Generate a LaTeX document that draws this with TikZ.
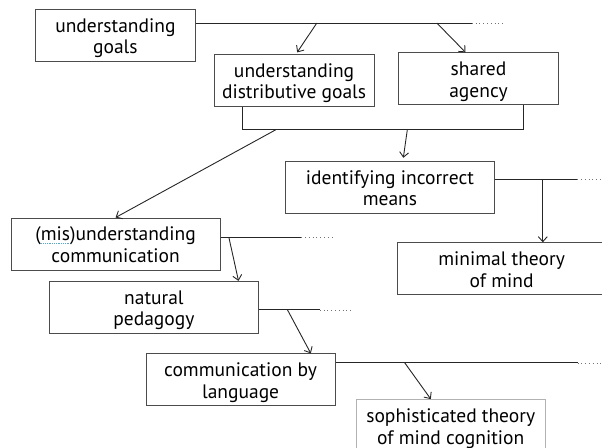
\documentclass[tikz,border=0pt]{standalone}
\usepackage{fontspec}
\setmainfont{PT Sans}
\usetikzlibrary{positioning,arrows.meta}

\newcommand\spellmark[1]{\setbox0\hbox{#1}\rlap{\color{cyan!60!gray}\hbox to \wd0{\leaders\hbox to 1.8pt{\hss\vrule width 0.8pt height -1.8pt depth 2.6pt\hss}\hfill}}#1}

\begin{document}
\begin{tikzpicture}[
    box/.style={draw=black!70, line width=0.8pt, minimum width=160pt, minimum height=52pt,
        inner sep=0pt, align=center, font=\fontsize{19.5}{21.5}\selectfont,
        text height=42pt, text depth=5pt},
    wide/.style={box, minimum width=209pt},
    mid/.style={box, minimum width=189pt},
    link/.style={line width=0.9pt, black!85},
    arr/.style={link, -{Straight Barb[length=5pt,width=9pt]}},
    tail/.style={black!55, line width=0.8pt, dash pattern=on 0.8pt off 3pt},
]
    \useasboundingbox (0,0) rectangle (602pt,-447pt);
    \node[box, anchor=north west] (goal) at (35pt,-9pt) {understanding\\goals};
    \node[box, below right=45pt and 178.7pt of goal.north west] (dist) {understanding\\distributive goals};
    \node[box, right=23.6pt of dist.north east, anchor=north west, yshift=1.7pt] (share) {shared\\agency};
    \node[wide, below right=54pt and 71.3pt of dist.south west] (ident) {identifying incorrect\\means};
    \node[wide, below left=155.7pt and 24.3pt of goal.south west, anchor=north west] (mis) {(\spellmark{mis})understanding\\communication};
    \node[wide, below right=28.7pt and 111.7pt of ident.south west] (mini) {minimal theory\\of mind};
    \node[wide, below right=10.6pt and 38.3pt of mis.south west] (nat) {natural\\pedagogy};
    \node[mid, below right=19.7pt and 96.7pt of nat.south west] (lang) {communication by\\language};
    \node[mid, draw=black!30, below right=45.7pt and 20.3pt of lang.north east] (soph) {sophisticated theory\\of mind cognition};

    % understanding goals
    \coordinate[below=14pt of goal.north east] (g0);
    \coordinate[right=121pt of g0] (ga);
    \coordinate[right=241pt of g0] (gb);
    \coordinate[right=276pt of g0] (g1);
    \coordinate[right=307pt of g0] (g2);
    \draw[link] (g0) -- (g1);
    \draw[tail] (g1) -- (g2);
    \draw[arr, shorten >=2pt] (ga) -- ([xshift=2pt]dist.north);
    \draw[arr] (gb) -- ([xshift=-13pt]share.north);

    % bracket under both goals
    \coordinate (d0) at ([xshift=29pt]dist.south west);
    \coordinate (s0) at ([xshift=125.4pt]share.south west);
    \coordinate[below=23pt of d0] (b1);
    \coordinate (b2) at (b1 -| s0);
    \draw[link] (d0) -- (b1) -- (b2) -- (s0);
    \draw[arr] ([xshift=33pt]b1) -- (mis.north);
    \draw[arr, shorten >=3pt] ([xshift=164.6pt]b1) -- ([xshift=13pt]ident.north);

    % identifying incorrect means
    \coordinate[below=18.3pt of ident.north east] (i0);
    \coordinate[right=48pt of i0] (ia);
    \coordinate[right=82.4pt of i0] (i1);
    \coordinate[right=110pt of i0] (i2);
    \draw[link] (i0) -- (i1);
    \draw[tail] (i1) -- (i2);
    \draw[arr] (ia) -- (ia |- mini.north);

    % (mis)understanding communication
    \coordinate[below=20pt of mis.north east] (m0);
    \coordinate[right=8.4pt of m0] (ma);
    \coordinate[right=80.7pt of m0] (m1);
    \coordinate[right=113pt of m0] (m2);
    \draw[link] (m0) -- (m1);
    \draw[tail] (m1) -- (m2);
    \draw[arr] (ma) -- ([xshift=-20.3pt]nat.north east);

    % natural pedagogy
    \coordinate[below=29pt of nat.north east] (n0);
    \coordinate[right=28.7pt of n0] (na);
    \coordinate[right=61pt of n0] (n1);
    \coordinate[right=92.7pt of n0] (n2);
    \draw[link] (n0) -- (n1);
    \draw[tail] (n1) -- (n2);
    \draw[arr] (na) -- ([xshift=-24.7pt]lang.north east);

    % communication by language
    \coordinate[below=9.5pt of lang.north east] (l0);
    \coordinate[right=69.3pt of l0] (la);
    \coordinate[right=242pt of l0] (l1);
    \coordinate[right=270pt of l0] (l2);
    \draw[link] (l0) -- (l1);
    \draw[tail] (l1) -- (l2);
    \draw[arr] (la) -- ([xshift=75pt]soph.north west);
\end{tikzpicture}
\end{document}
